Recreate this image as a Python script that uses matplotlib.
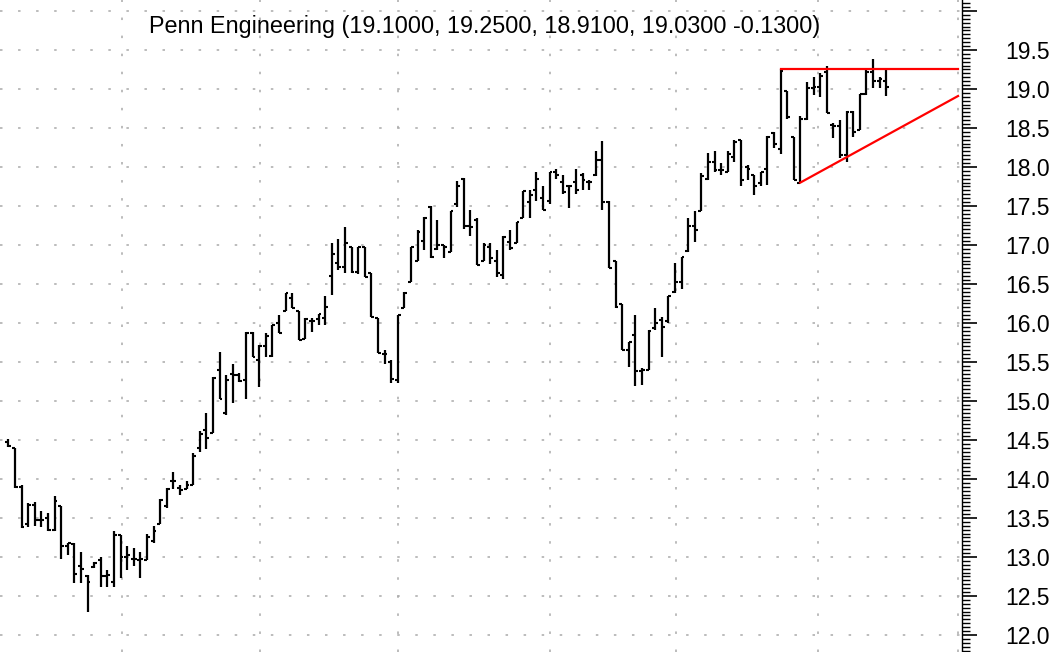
import numpy as np
import matplotlib
matplotlib.use("Agg")
import matplotlib.pyplot as plt
from matplotlib.ticker import MultipleLocator, FixedLocator, NullFormatter

plt.rcParams['font.family'] = ['Liberation Sans', 'DejaVu Sans']
plt.rcParams['lines.scale_dashes'] = False

title = "Penn Engineering (19.1000, 19.2500, 18.9100, 19.0300 -0.1300)"

# daily bars (open, high, low, close)
opens = [14.47, 14.40, 13.90, 13.42, 13.67, 13.48, 13.50, 13.35, 13.65, 13.14,
         13.17, 12.88, 12.76, 12.87, 12.96, 12.76, 12.68, 13.28, 13.00, 12.98,
         12.96, 12.96, 13.20, 13.42, 13.66, 13.98, 13.88, 13.87, 13.92, 14.40,
         14.63, 14.59, 15.40, 14.84, 15.35, 15.33, 15.27, 15.87, 15.53, 15.70,
         15.58, 16.00, 16.15, 16.32, 16.15, 15.80, 16.02, 16.05, 16.07, 16.60,
         16.77, 16.72, 16.98, 16.66, 16.98, 16.64, 16.06, 15.60, 15.50, 15.27,
         16.19, 16.53, 16.79, 17.05, 17.49, 16.95, 17.00, 16.91, 17.52, 17.85,
         17.24, 17.32, 16.79, 16.98, 16.79, 16.61, 17.04, 17.03, 17.34, 17.55,
         17.70, 17.60, 17.56, 17.94, 17.81, 17.75, 17.81, 17.90, 17.81, 17.90,
         18.09, 17.55, 16.79, 16.24, 15.65, 15.84, 15.38, 15.40, 15.93, 16.04,
         16.02, 16.40, 16.53, 16.92, 17.24, 17.43, 17.84, 18.07, 17.96, 17.94,
         18.13, 18.34, 18.00, 17.90, 17.79, 17.97, 18.43, 18.23, 18.97, 18.39,
         17.80, 18.61, 19.01, 19.03, 19.22, 18.54, 18.53, 18.15, 18.70, 18.48,
         18.94, 19.22, 19.10, 19.10]
highs = [14.51, 14.40, 13.92, 13.69, 13.70, 13.59, 13.56, 13.78, 13.66, 13.18,
         13.18, 13.07, 12.77, 12.94, 13.00, 12.83, 13.33, 13.28, 13.14, 13.11,
         13.07, 13.29, 13.40, 13.74, 13.89, 14.09, 13.92, 13.98, 14.33, 14.61,
         14.84, 15.31, 15.63, 15.33, 15.48, 15.36, 15.88, 15.88, 15.72, 15.87,
         15.97, 16.10, 16.38, 16.38, 16.15, 16.07, 16.07, 16.12, 16.34, 17.03,
         17.08, 17.23, 16.98, 16.98, 16.98, 16.64, 16.06, 15.65, 15.53, 16.10,
         16.40, 16.98, 17.19, 17.36, 17.50, 17.32, 17.00, 17.43, 17.82, 17.86,
         17.45, 17.34, 17.03, 17.03, 16.94, 17.11, 17.19, 17.30, 17.69, 17.70,
         17.94, 17.75, 17.94, 17.98, 17.90, 17.77, 17.98, 17.92, 17.83, 18.20,
         18.33, 17.56, 16.79, 16.24, 15.76, 16.10, 15.42, 15.91, 16.19, 16.08,
         16.34, 16.77, 16.84, 17.35, 17.43, 17.92, 18.18, 18.20, 18.05, 18.20,
         18.35, 18.35, 18.03, 17.90, 17.94, 18.40, 18.45, 19.25, 18.97, 18.39,
         18.65, 19.09, 19.16, 19.20, 19.29, 18.56, 18.60, 18.72, 18.72, 18.94,
         19.24, 19.38, 19.16, 19.25]
lows = [14.41, 13.88, 13.37, 13.39, 13.40, 13.39, 13.33, 13.33, 12.98, 13.03,
        12.67, 12.67, 12.29, 12.86, 12.62, 12.62, 12.62, 12.73, 12.83, 12.88,
        12.73, 12.96, 13.18, 13.42, 13.63, 13.87, 13.79, 13.87, 13.92, 14.35,
        14.39, 14.59, 15.02, 14.82, 14.97, 15.24, 15.02, 15.57, 15.18, 15.57,
        15.57, 15.87, 16.15, 16.19, 15.78, 15.79, 15.89, 15.97, 15.97, 16.36,
        16.68, 16.64, 16.64, 16.63, 16.59, 16.08, 15.61, 15.48, 15.23, 15.23,
        16.19, 16.53, 16.79, 16.94, 16.83, 16.94, 16.83, 16.91, 17.49, 17.21,
        17.11, 16.74, 16.79, 16.76, 16.59, 16.57, 16.94, 17.02, 17.34, 17.34,
        17.56, 17.45, 17.53, 17.85, 17.66, 17.47, 17.66, 17.70, 17.70, 17.88,
        17.45, 16.70, 16.19, 15.65, 15.44, 15.19, 15.20, 15.40, 15.91, 15.57,
        16.00, 16.38, 16.43, 16.91, 17.04, 17.43, 17.83, 17.94, 17.90, 17.94,
        18.07, 17.75, 17.83, 17.64, 17.75, 17.77, 18.24, 18.17, 18.62, 17.83,
        17.80, 18.60, 18.92, 18.90, 18.69, 18.37, 18.11, 18.07, 18.39, 18.47,
        18.92, 19.01, 19.01, 18.91]
closes = [14.42, 13.90, 13.38, 13.67, 13.48, 13.48, 13.35, 13.72, 13.14, 13.18,
          12.78, 12.85, 12.68, 12.92, 12.75, 12.77, 13.28, 13.00, 13.02, 12.98,
          12.97, 13.25, 13.33, 13.73, 13.87, 13.97, 13.86, 13.92, 14.30, 14.58,
          14.53, 15.29, 15.02, 15.27, 15.33, 15.25, 15.87, 15.57, 15.71, 15.83,
          15.97, 15.87, 16.38, 16.19, 15.78, 16.05, 16.02, 16.12, 16.21, 16.89,
          16.72, 17.03, 16.66, 16.98, 16.59, 16.08, 15.61, 15.60, 15.28, 16.10,
          16.39, 16.98, 17.17, 17.34, 16.85, 17.00, 16.98, 17.43, 17.75, 17.24,
          17.23, 16.74, 17.00, 16.83, 16.64, 17.10, 16.96, 17.30, 17.69, 17.64,
          17.84, 17.45, 17.94, 17.90, 17.68, 17.75, 17.70, 17.83, 17.81, 18.09,
          17.55, 16.70, 16.21, 15.65, 15.76, 15.38, 15.40, 15.90, 16.00, 15.95,
          16.34, 16.53, 16.84, 17.24, 17.19, 17.88, 18.07, 17.96, 17.96, 18.17,
          18.32, 17.83, 17.98, 17.75, 17.94, 18.39, 18.30, 19.23, 18.64, 17.83,
          18.62, 19.01, 19.03, 19.17, 18.69, 18.52, 18.15, 18.71, 18.45, 18.94,
          19.22, 19.10, 19.13, 19.03]

# bar index where each month starts (vertical grid)
month_breaks = [17.2, 38.1, 59.0, 82.1, 101.2, 122.7, 143.9]

# triangle lines: (bar index, price)
resistance = ([117, 143.9], [19.25, 19.25])
support = ([120, 143.9], [17.80, 18.91])

x = np.arange(len(closes))
w = 0.45

fig = plt.figure(figsize=(10.61, 6.52), dpi=100)
ax = fig.add_axes([0, 0, 962 / 1061, 1])

ax.vlines(x, lows, highs, color='black', linewidth=1.6)
ax.hlines(opens, x - w, x, color='black', linewidth=1.5)
ax.hlines(closes, x, x + w, color='black', linewidth=1.5)

ax.plot(*resistance, color='red', linewidth=1.6)
ax.plot(*support, color='red', linewidth=1.6)

ax.set_xlim(-1.26, 144.5)
ax.set_ylim(11.782, 20.141)

ax.xaxis.set_major_locator(FixedLocator(month_breaks))
ax.xaxis.set_major_formatter(NullFormatter())
ax.tick_params(axis='x', length=0)

ax.yaxis.tick_right()
ax.yaxis.set_major_locator(MultipleLocator(0.5))
ax.yaxis.set_minor_locator(MultipleLocator(0.05))
ax.yaxis.set_major_formatter(lambda v, p: "%.1f" % v if v < 19.9 else "")
ax.tick_params(axis='y', which='major', length=11, width=1.2, pad=20,
               labelsize=16.5, direction='out')
ax.tick_params(axis='y', which='minor', length=6, width=1.0, direction='out')

ax.grid(True, which='major', color='#aaaaaa', linewidth=1.1,
        linestyle=(0, (1.8, 11.2)))

for s in ['left', 'top', 'bottom']:
    ax.spines[s].set_visible(False)
ax.spines['right'].set_linewidth(1.0)

fig.text(485 / 1061, 1 - 27 / 652, title, ha='center', va='center', fontsize=16.8)

fig.savefig("out.png", dpi=100)
